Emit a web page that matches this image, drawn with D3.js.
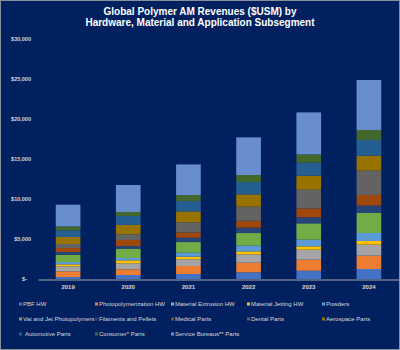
<html>
<head>
<meta charset="utf-8">
<script src="https://cdn.jsdelivr.net/npm/d3@7"></script>
<style>
  body { margin:0; background:#002060; }
  text { font-family: "Liberation Sans", Arial, sans-serif; }
</style>
</head>
<body>
<script>
var width = 400, height = 350;

var years = ["2019", "2020", "2021", "2022", "2023", "2024"];
var segments = ["PBF HW", "Photopolymerization HW", "Material Extrusion HW", "Material Jetting HW", "Powders",
                "Vat and Jet Photopolymers", "Filaments and Pellets", "Medical Parts", "Dental Parts", "Aerospace Parts",
                "Automotive Parts", "Consumer* Parts", "Service Bureaus** Parts"];
var colors = ["#4472C4", "#ED7D31", "#A5A5A5", "#FFC000", "#5B9BD5",
              "#70AD47", "#264478", "#9E480E", "#636363", "#997300",
              "#255E91", "#43682B", "#698ED0"];

// revenues ($USM) per segment, one value per year
var pbfHW        = [250, 500, 625, 830, 1040, 1250];
var photoHW      = [710, 710, 1000, 1210, 1375, 1670];
var extrusionHW  = [625, 750, 830, 1040, 1250, 1375];
var jettingHW    = [250, 375, 330, 375, 420, 460];
var powders      = [290, 290, 500, 710, 830, 1000];
var vatJet       = [920, 1170, 1330, 1580, 2040, 2500];
var filaments    = [330, 330, 540, 670, 750, 920];
var medical      = [500, 750, 670, 875, 1125, 1330];
var dental       = [500, 710, 1250, 1750, 2330, 3040];
var aerospace    = [875, 1170, 1375, 1540, 1750, 1875];
var automotive   = [830, 1125, 1290, 1540, 1625, 1960];
var consumer     = [500, 500, 750, 875, 1040, 1250];
var bureaus      = [2710, 3375, 3830, 4710, 5250, 6250];

var yTicks = [0, 5000, 10000, 15000, 20000, 25000, 30000];

var series = [pbfHW, photoHW, extrusionHW, jettingHW, powders, vatJet, filaments,
              medical, dental, aerospace, automotive, consumer, bureaus];

var table = years.map(function(y, i) {
  var row = {year: y};
  segments.forEach(function(s, j) { row[s] = series[j][i]; });
  return row;
});

var svg = d3.select("body").append("svg")
  .attr("width", width).attr("height", height);

svg.append("rect").attr("x", 0.5).attr("y", 0.5)
  .attr("width", width - 1).attr("height", height - 1)
  .attr("fill", "#002060").attr("stroke", "#8a8f9c");

svg.append("text").attr("x", 200).attr("y", 14.5)
  .attr("text-anchor", "middle").attr("fill", "#fff")
  .style("font-size", "10px").style("font-weight", "bold")
  .text("Global Polymer AM Revenues ($USM) by");
svg.append("text").attr("x", 200).attr("y", 25.5)
  .attr("text-anchor", "middle").attr("fill", "#fff")
  .style("font-size", "10px").style("font-weight", "bold")
  .text("Hardware, Material and Application Subsegment");

var x = d3.scaleBand().domain(years).range([38, 399])
  .paddingInner(0.59).paddingOuter(0.295);
var y = d3.scaleLinear().domain([0, 30000]).range([279, 39]);

var stack = d3.stack().keys(segments)(table);

svg.append("g").selectAll("g").data(stack).join("g")
  .attr("fill", function(d, i) { return colors[i]; })
  .selectAll("rect").data(function(d) { return d; }).join("rect")
  .attr("x", function(d) { return x(d.data.year); })
  .attr("width", x.bandwidth())
  .attr("y", function(d) { return y(d[1]); })
  .attr("height", function(d) { return y(d[0]) - y(d[1]); });

var yAxis = svg.append("g").attr("transform", "translate(31,0)")
  .call(d3.axisLeft(y).tickValues(yTicks).tickSize(0).tickPadding(0)
    .tickFormat(function(d) { return d === 0 ? "$-" : "$" + d3.format(",")(d); }));
yAxis.select(".domain").remove();
yAxis.selectAll("text").attr("fill", "#d9d9d9")
  .style("font-size", "5.5px").style("font-weight", "bold")
  .style("font-family", "'Liberation Sans', Arial, sans-serif")
  .attr("dx", function(d) { return d === 0 ? -4 : 0; });

var xAxis = svg.append("g").attr("transform", "translate(0,279.5)")
  .call(d3.axisBottom(x).tickSize(0).tickSizeOuter(0).tickPadding(5));
xAxis.select(".domain").attr("stroke", "#a6a6a6");
xAxis.selectAll("text").attr("fill", "#d9d9d9")
  .style("font-size", "6px").style("font-weight", "bold")
  .style("font-family", "'Liberation Sans', Arial, sans-serif");

var colX = [19, 95, 171, 247, 322];
var rowY = [304, 319, 334];
var legend = svg.append("g").selectAll("g").data(segments).join("g")
  .attr("transform", function(d, i) {
    return "translate(" + colX[i % 5] + "," + rowY[Math.floor(i / 5)] + ")";
  });
legend.append("rect").attr("x", 0).attr("y", -1.5).attr("width", 3).attr("height", 3)
  .attr("fill", function(d, i) { return colors[i]; });
legend.append("text").attr("x", function(d) { return d === "Automotive Parts" ? 6 : 4; })
  .attr("y", 2).attr("fill", "#d9d9d9")
  .style("font-size", "6px")
  .text(function(d) { return d; });
</script>
</body>
</html>
